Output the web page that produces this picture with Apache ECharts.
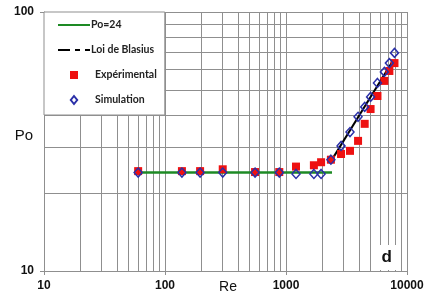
<!DOCTYPE html>
<html>
<head>
<meta charset="utf-8">
<script src="https://cdn.jsdelivr.net/npm/echarts@6/dist/echarts.min.js"></script>
<style>html,body{margin:0;padding:0;background:#fff}#c{width:428px;height:295px}</style>
</head>
<body>
<div id="c"></div>
<script>
// Reynolds numbers of the measured / simulated points
var reValues = [60, 138, 195, 300, 555, 880, 1210, 1700, 1950, 2350, 2850, 3380, 3940, 4470, 5000, 5700, 6500, 7150, 7880];
// Experimental Poiseuille numbers
var poExperimental = [24.3, 24.3, 24.3, 24.7, 24.1, 24.1, 25.3, 25.6, 26.3, 26.9, 28.3, 29.1, 31.8, 37.0, 42.2, 47.4, 54.2, 59.2, 63.5];
// Simulated Poiseuille numbers
var poSimulation = [24.0, 24.0, 24.0, 24.0, 24.0, 24.0, 23.7, 23.7, 23.7, 26.9, 30.4, 34.4, 39.4, 43.0, 47.0, 53.2, 58.7, 63.5, 69.5];
// Laminar line Po = 24
var laminarRe = [60, 2400];
var laminarPo = [24, 24];
// Blasius law line
var blasiusRe = [2350, 7600];
var blasiusPo = [26.5, 64.5];
// Log grid (minor lines)
var xMinorGrid = [20, 30, 40, 50, 60, 70, 80, 90, 200, 300, 400, 500, 600, 700, 800, 900, 2000, 3000, 4000, 5000, 6000, 7000, 8000, 9000];
var yMinorGrid = [20, 30, 40, 50, 60, 70, 80, 90];
var seriesNames = ['Po=24', 'Loi de Blasius', 'Expérimental', 'Simulation'];

function pairs(xs, ys) { return xs.map(function (x, i) { return [x, ys[i]]; }); }

var gridColor = '#8f8f8f';
var labelFont = 'Liberation Sans, Arial, sans-serif';
var chart = echarts.init(document.getElementById('c'), null, {renderer: 'canvas'});
var gridLines = xMinorGrid.map(function (v) { return {xAxis: v}; })
  .concat(yMinorGrid.map(function (v) { return {yAxis: v}; }));

chart.setOption({
  animation: false,
  backgroundColor: '#fff',
  grid: {left: 44, right: 21, top: 12, bottom: 24, containLabel: false, outerBoundsMode: 'none'},
  title: {
    text: 'd', right: 30, bottom: 25, backgroundColor: '#fff', padding: [4, 6, 4, 6], z: 20,
    textStyle: {fontFamily: labelFont, fontWeight: 'bold', fontSize: 17, color: '#111'}
  },
  legend: {
    data: [
      {name: seriesNames[0], icon: 'path://M0,0H32V2H0Z', textStyle: {padding: [0, 0, 0, -4]}},
      {name: seriesNames[1], icon: 'path://M0,0H12V2H0Z M17,0H22V2H17Z M27,0H32V2H27Z', textStyle: {padding: [0, 0, 0, -4]}},
      {name: seriesNames[2], icon: 'path://M0,0H8V8H0Z'},
      {name: seriesNames[3], icon: 'path://M4,0L8,5L4,10L0,5Z'}
    ],
    orient: 'vertical', left: 44, top: 12, z: 20,
    itemWidth: 32, itemHeight: 8, itemGap: 11,
    padding: [6, 8, 8, 14],
    backgroundColor: '#fff', borderColor: gridColor, borderWidth: 1,
    selectedMode: false,
    textStyle: {fontFamily: 'Lato, sans-serif', fontWeight: 'bold', fontSize: 10.5, color: '#222', lineHeight: 14}
  },
  xAxis: {
    type: 'log', logBase: 10, min: 10, max: 10000,
    name: 'Re', nameLocation: 'middle', nameGap: 9, nameMoveOverlap: false,
    nameTextStyle: {fontFamily: labelFont, fontSize: 14, color: '#111', padding: [0, 0, 0, 5]},
    axisLine: {show: true, onZero: false, lineStyle: {color: gridColor, width: 1}},
    axisTick: {show: true, length: 4, lineStyle: {color: gridColor}},
    axisLabel: {margin: 9, fontFamily: labelFont, fontWeight: 700, fontSize: 12, color: '#111',
      formatter: function (v) { return String(Math.round(v)); }},
    splitLine: {show: true, lineStyle: {color: gridColor, width: 1}}
  },
  yAxis: {
    type: 'log', logBase: 10, min: 10, max: 100,
    name: 'Po', nameLocation: 'middle', nameGap: 11, nameRotate: 0, nameMoveOverlap: false,
    nameTextStyle: {fontFamily: labelFont, fontSize: 15, color: '#111', verticalAlign: 'bottom', lineHeight: 12},
    axisLine: {show: true, lineStyle: {color: gridColor, width: 1}},
    axisTick: {show: true, length: 4, lineStyle: {color: gridColor}},
    axisLabel: {margin: 10, fontFamily: labelFont, fontWeight: 700, fontSize: 12, color: '#111',
      formatter: function (v) { return String(Math.round(v)); }},
    splitLine: {show: true, lineStyle: {color: gridColor, width: 1}}
  },
  series: [
    {
      name: 'grid', type: 'line', data: [], z: 1, silent: true,
      markLine: {
        silent: true, z: 1, symbol: ['none', 'none'], label: {show: false},
        lineStyle: {color: gridColor, width: 1, type: 'solid'},
        emphasis: {disabled: true},
        data: gridLines
      }
    },
    {
      name: seriesNames[0], type: 'line', data: pairs(laminarRe, laminarPo), z: 2,
      symbol: 'none', lineStyle: {color: '#1d8a24', width: 2.5}, itemStyle: {color: '#1d8a24'}
    },
    {
      name: seriesNames[1], type: 'line', data: pairs(blasiusRe, blasiusPo), z: 2,
      symbol: 'none', lineStyle: {color: '#000', width: 2}, itemStyle: {color: '#000'}
    },
    {
      name: seriesNames[2], type: 'scatter', data: pairs(reValues, poExperimental), z: 3,
      symbol: 'rect', symbolSize: 8, itemStyle: {color: '#ee1111', opacity: 1}
    },
    {
      name: seriesNames[3], type: 'scatter', data: pairs(reValues, poSimulation), z: 4,
      symbol: 'diamond', symbolSize: [8, 9],
      itemStyle: {color: 'rgba(255,255,255,0)', borderColor: '#2a2fa8', borderWidth: 1.5, opacity: 1}
    }
  ]
});
</script>
</body>
</html>
